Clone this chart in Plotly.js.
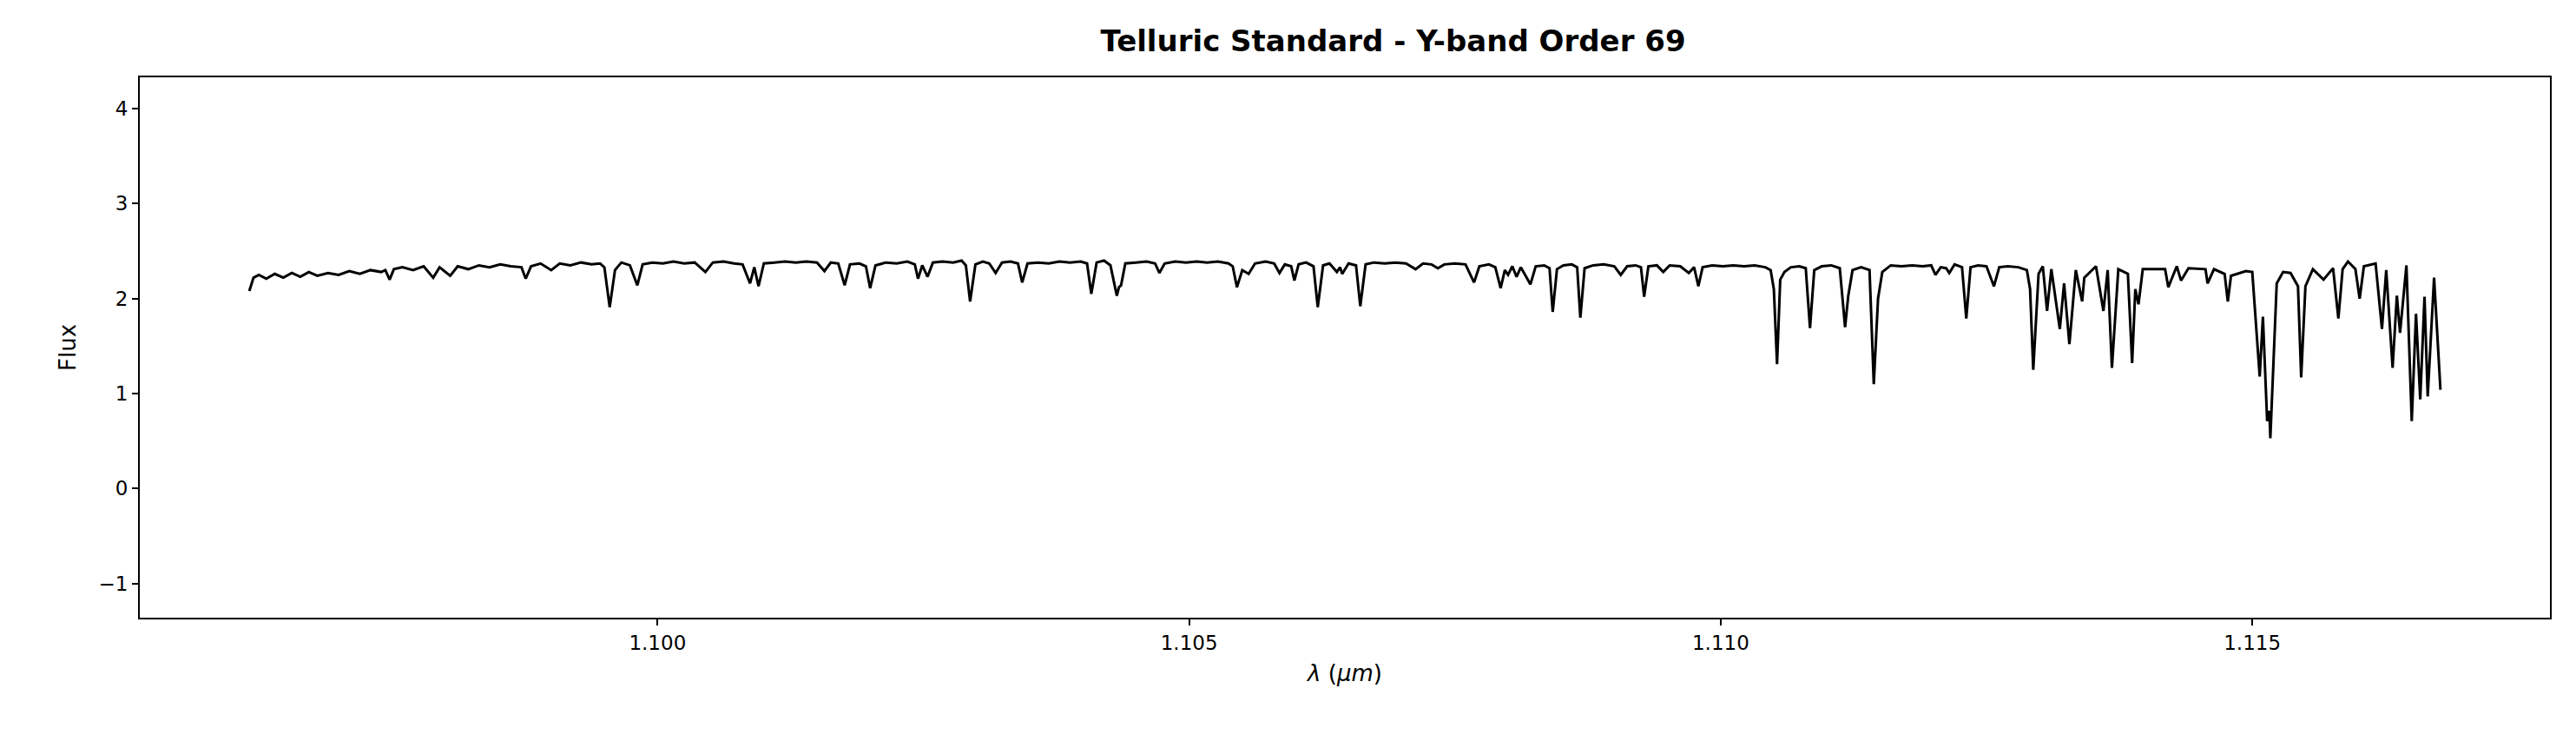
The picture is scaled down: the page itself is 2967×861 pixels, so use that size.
<!DOCTYPE html>
<html>
<head>
<meta charset="utf-8">
<script src="https://cdn.plot.ly/plotly-3.0.1.min.js"></script>
<style>body{margin:0;background:#fff}</style>
</head>
<body>
<div id="chart" style="width:2967px;height:861px"></div>
<script>
// wavelength (um) and flux
var wavelength = [
1.09616,1.09620,1.09625,1.09632,1.09640,1.09648,1.09656,1.09664,1.09672,1.09680,1.09690,1.09700,1.09710,1.09720,1.09730,1.09740,1.09744,1.09748,1.09752,1.09760,
1.09770,1.09780,1.09789,1.09795,1.09805,1.09812,1.09822,1.09832,1.09842,1.09852,1.09862,1.09872,1.09876,1.09881,1.09890,1.09900,1.09908,1.09918,1.09928,1.09938,
1.09946,1.09950,1.09955,1.09960,1.09966,1.09974,1.09981,1.09986,1.09995,1.10005,1.10015,1.10025,1.10035,1.10045,1.10052,1.10062,1.10072,1.10080,1.10087,1.10091,
1.10095,1.10100,1.10110,1.10120,1.10130,1.10140,1.10150,1.10157,1.10163,1.10170,1.10176,1.10181,1.10190,1.10196,1.10200,1.10205,1.10215,1.10225,1.10235,1.10242,
1.10245,1.10249,1.10254,1.10259,1.10268,1.10278,1.10286,1.10290,1.10294,1.10299,1.10306,1.10312,1.10318,1.10324,1.10332,1.10339,1.10343,1.10348,1.10358,1.10368,
1.10378,1.10388,1.10398,1.10404,1.10408,1.10413,1.10420,1.10426,1.10432,1.10434,1.10436,1.10440,1.10450,1.10460,1.10468,1.10472,1.10477,1.10487,1.10497,1.10507,
1.10517,1.10527,1.10537,1.10541,1.10545,1.10550,1.10556,1.10562,1.10572,1.10580,1.10585,1.10590,1.10596,1.10599,1.10603,1.10610,1.10617,1.10621,1.10626,1.10632,
1.10639,1.10642,1.10644,1.10650,1.10657,1.10661,1.10666,1.10674,1.10684,1.10694,1.10704,1.10713,1.10720,1.10728,1.10734,1.10740,1.10750,1.10760,1.10768,1.10773,
1.10782,1.10788,1.10793,1.10797,1.10800,1.10804,1.10808,1.10812,1.10817,1.10821,1.10826,1.10834,1.10839,1.10842,1.10846,1.10852,1.10860,1.10865,1.10868,1.10872,
1.10880,1.10890,1.10900,1.10906,1.10912,1.10920,1.10925,1.10928,1.10932,1.10940,1.10946,1.10952,1.10962,1.10970,1.10975,1.10979,1.10983,1.10992,1.11002,1.11012,
1.11022,1.11032,1.11042,1.11047,1.11050,1.11053,1.11056,1.11060,1.11066,1.11074,1.11080,1.11084,1.11088,1.11095,1.11104,1.11112,1.11117,1.11120,1.11124,1.11132,
1.11140,1.11144,1.11148,1.11152,1.11160,1.11170,1.11180,1.11190,1.11198,1.11202,1.11207,1.11212,1.11215,1.11220,1.11227,1.11231,1.11235,1.11242,1.11250,1.11257,
1.11262,1.11270,1.11280,1.11288,1.11291,1.11294,1.11299,1.11303,1.11307,1.11311,1.11319,1.11323,1.11328,1.11334,1.11340,1.11342,1.11353,1.11360,1.11364,1.11368,
1.11374,1.11383,1.11387,1.11390,1.11393,1.11397,1.11418,1.11421,1.11429,1.11433,1.11440,1.11456,1.11458,1.11464,1.11474,1.11477,1.11480,1.11494,1.11500,1.11507,
1.11510,1.11514,1.11516,1.11517,1.11523,1.11529,1.11536,1.11543,1.11546,1.11550,1.11557,1.11567,1.11576,1.11581,1.11585,1.11590,1.11597,1.11601,1.11605,1.11616,
1.11622,1.11626,1.11632,1.11636,1.11639,1.11645,1.11650,1.11654,1.11658,1.11662,1.11665,1.11671,1.11677
];
var flux = [
2.08,2.22,2.25,2.21,2.26,2.22,2.27,2.23,2.28,2.24,2.27,2.25,2.29,2.26,2.30,2.28,2.30,2.20,2.31,2.33,
2.30,2.34,2.22,2.33,2.24,2.34,2.31,2.35,2.33,2.36,2.34,2.33,2.21,2.34,2.37,2.30,2.37,2.35,2.38,2.36,
2.37,2.33,1.91,2.30,2.38,2.35,2.14,2.36,2.38,2.37,2.39,2.37,2.38,2.28,2.38,2.39,2.37,2.36,2.16,2.33,
2.13,2.37,2.38,2.39,2.38,2.39,2.38,2.29,2.38,2.37,2.14,2.36,2.37,2.34,2.11,2.35,2.38,2.37,2.39,2.36,
2.21,2.35,2.23,2.38,2.39,2.38,2.40,2.35,1.97,2.36,2.39,2.37,2.27,2.38,2.39,2.37,2.17,2.37,2.38,2.37,
2.39,2.38,2.39,2.37,2.05,2.38,2.40,2.35,2.03,2.12,2.14,2.37,2.38,2.39,2.37,2.27,2.37,2.39,2.38,2.39,
2.38,2.39,2.37,2.34,2.12,2.30,2.26,2.37,2.39,2.37,2.27,2.36,2.34,2.19,2.36,2.38,2.34,1.91,2.35,2.37,
2.28,2.33,2.26,2.37,2.35,1.92,2.36,2.38,2.37,2.38,2.37,2.31,2.37,2.36,2.32,2.36,2.37,2.36,2.17,2.34,
2.36,2.33,2.11,2.30,2.25,2.34,2.23,2.33,2.23,2.15,2.34,2.35,2.32,1.86,2.31,2.35,2.36,2.33,1.80,2.32,
2.35,2.36,2.34,2.25,2.34,2.35,2.33,2.02,2.34,2.35,2.28,2.35,2.34,2.27,2.33,2.13,2.33,2.35,2.34,2.35,
2.34,2.35,2.33,2.30,2.10,1.31,2.20,2.28,2.33,2.34,2.32,1.69,2.30,2.34,2.35,2.32,1.70,2.03,2.30,2.33,
2.30,1.10,2.00,2.28,2.35,2.34,2.35,2.34,2.35,2.25,2.33,2.32,2.27,2.36,2.33,1.79,2.33,2.35,2.34,2.13,
2.33,2.34,2.33,2.30,2.10,1.25,2.26,2.34,1.87,2.31,1.68,2.16,1.52,2.30,1.97,2.22,2.34,1.87,2.30,1.27,
2.31,2.26,1.32,2.10,1.94,2.31,2.31,2.12,2.34,2.19,2.32,2.31,2.16,2.31,2.26,1.97,2.24,2.29,2.28,1.18,
1.81,0.71,0.82,0.53,2.16,2.28,2.27,2.13,1.17,2.13,2.31,2.20,2.32,1.79,2.31,2.39,2.31,2.00,2.34,2.37,
1.68,2.30,1.27,2.03,1.64,2.35,0.71,1.84,0.94,2.02,0.97,2.22,1.04
];
var xTicks = [1.100, 1.105, 1.110, 1.115];
var yTicks = [-1, 0, 1, 2, 3, 4];

var font = 'DejaVu Sans, sans-serif';
Plotly.newPlot(document.getElementById('chart'), [{
  x: wavelength,
  y: flux,
  mode: 'lines',
  type: 'scatter',
  line: {color: '#000', width: 3}
}], {
  width: 2967, height: 861,
  margin: {l: 161, r: 30, t: 89, b: 150},
  paper_bgcolor: '#fff', plot_bgcolor: '#fff',
  showlegend: false,
  font: {family: font, color: '#000', size: 23},
  title: {
    text: '<b>Telluric Standard - Y-band Order 69</b>',
    font: {family: font, size: 34, color: '#000'},
    x: 0.52, xref: 'paper', y: 0.945, yanchor: 'middle'
  },
  xaxis: {
    range: [1.09513, 1.1178],
    tickvals: xTicks, ticktext: xTicks.map(function(v){return v.toFixed(3)}),
    ticks: 'outside', ticklen: 7, tickwidth: 1.6, tickcolor: '#000',
    showline: true, mirror: true, linecolor: '#000', linewidth: 1.8,
    showgrid: false, zeroline: false,
    tickfont: {size: 23},
    title: {text: '<i>λ</i> (<i>μm</i>)', font: {size: 26}, standoff: 14}
  },
  yaxis: {
    range: [-1.36, 4.33],
    tickvals: yTicks, ticktext: yTicks.map(function(v){return v < 0 ? '\u2212' + (-v) : String(v)}),
    ticks: 'outside', ticklen: 7, tickwidth: 1.6, tickcolor: '#000',
    showline: true, mirror: true, linecolor: '#000', linewidth: 1.8,
    showgrid: false, zeroline: false,
    tickfont: {size: 23},
    title: {text: 'Flux', font: {size: 26}, standoff: 18}
  }
}, {displayModeBar: false});
</script>
</body>
</html>
